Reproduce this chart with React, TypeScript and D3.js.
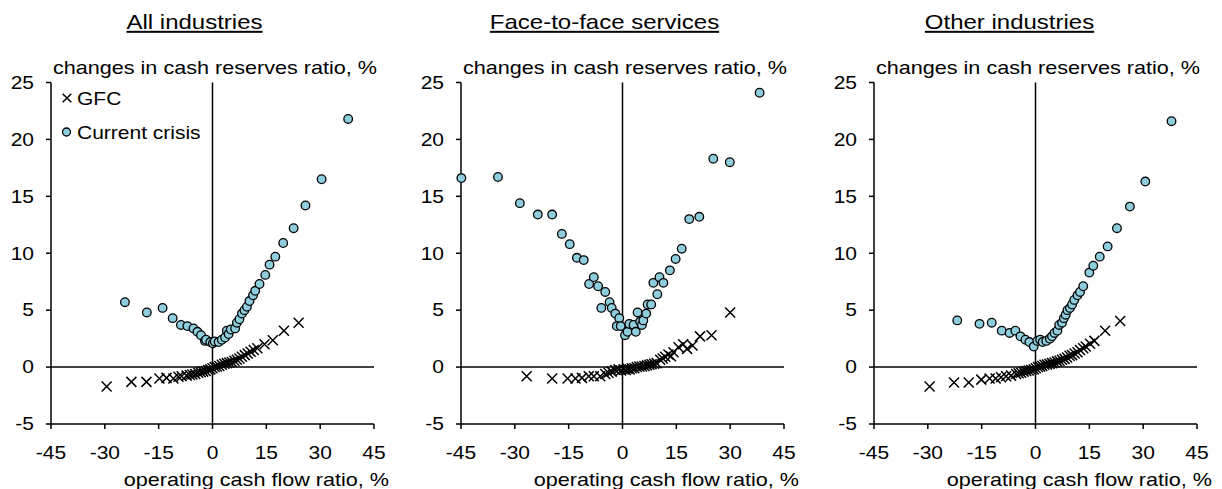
import React from 'react';
import * as d3 from 'd3';

// values: [operating cash flow ratio %, change in cash reserves ratio %]
const allGfc: [number, number][] = [
  [-29.5, -1.7], [-22.6, -1.3], [-18.4, -1.3], [-14.8, -1.0], [-12.8, -0.95], [-10.9, -1.0],
  [-9.5, -0.85], [-8.6, -0.8], [-7.2, -0.75], [-6.3, -0.7], [-5.6, -0.65], [-4.8, -0.6],
  [-4.0, -0.5], [-3.3, -0.45], [-2.6, -0.4], [-1.9, -0.35], [-1.2, -0.25], [-0.6, -0.2],
  [0.0, -0.1], [0.6, 0.0], [1.2, 0.05], [1.9, 0.1], [2.6, 0.2], [3.3, 0.3], [4.0, 0.35],
  [4.7, 0.4], [5.4, 0.45], [6.1, 0.55], [6.8, 0.65], [7.5, 0.75], [8.2, 0.9], [9.0, 1.05],
  [9.8, 1.2], [10.6, 1.35], [11.5, 1.5], [12.5, 1.65], [14.5, 2.0], [16.8, 2.35], [19.9, 3.2],
  [24.0, 3.9],
];
const allCurrent: [number, number][] = [
  [-24.4, 5.7], [-18.3, 4.8], [-13.9, 5.2], [-11.1, 4.3], [-8.8, 3.7], [-7.0, 3.6], [-5.3, 3.4],
  [-4.2, 3.1], [-3.2, 2.8], [-2.1, 2.3], [-1.8, 2.4], [-0.6, 2.2], [0.1, 2.1], [0.6, 2.25],
  [1.7, 2.2], [2.6, 2.4], [3.5, 2.6], [4.0, 3.2], [4.5, 2.9], [5.1, 3.3], [6.3, 3.4], [6.8, 3.9],
  [7.5, 4.2], [8.2, 4.7], [8.9, 5.0], [9.6, 5.3], [10.3, 5.8], [11.3, 6.3], [11.9, 6.7],
  [13.1, 7.3], [14.7, 8.1], [15.9, 9.0], [17.5, 9.7], [19.7, 10.9], [22.6, 12.2], [25.9, 14.2],
  [30.4, 16.5], [37.8, 21.8],
];

const f2fGfc: [number, number][] = [
  [-26.7, -0.8], [-19.6, -1.0], [-15.3, -1.0], [-13.1, -1.0], [-11.3, -0.95], [-9.4, -0.8],
  [-8.0, -0.8], [-6.2, -0.8], [-4.8, -0.6], [-3.9, -0.5], [-3.0, -0.4], [-2.0, -0.25],
  [-1.1, -0.2], [-0.4, -0.3], [0.3, -0.2], [0.9, -0.25], [1.4, -0.15], [2.0, -0.2], [2.6, -0.1],
  [3.3, -0.1], [4.0, 0.0], [4.7, 0.05], [5.4, 0.05], [6.1, 0.1], [6.8, 0.15], [7.5, 0.2],
  [8.1, 0.25], [8.8, 0.3], [9.5, 0.35], [10.5, 0.65], [11.2, 0.75], [11.9, 0.9], [12.8, 1.1],
  [13.5, 0.95], [14.2, 1.3], [15.6, 1.75], [16.9, 2.0], [18.0, 1.6], [19.5, 1.9], [21.6, 2.7],
  [24.8, 2.8], [30.0, 4.8],
];
const f2fCurrent: [number, number][] = [
  [-44.9, 16.6], [-34.7, 16.7], [-28.6, 14.4], [-23.6, 13.4], [-19.6, 13.4], [-16.9, 11.7],
  [-14.7, 10.8], [-12.7, 9.6], [-10.8, 9.4], [-9.3, 7.3], [-8.0, 7.9], [-6.8, 7.1], [-4.8, 6.6],
  [-5.9, 5.2], [-3.6, 5.7], [-3.0, 5.2], [-2.0, 4.7], [-0.9, 4.3], [-1.6, 3.6], [-0.5, 3.6],
  [0.7, 2.8], [1.4, 3.1], [1.9, 3.8], [3.1, 3.7], [3.7, 3.1], [4.2, 4.8], [4.9, 4.0], [5.4, 3.7],
  [5.8, 4.1], [6.6, 4.7], [7.0, 5.5], [8.0, 5.5], [8.6, 7.4], [9.7, 6.4], [10.3, 7.9],
  [11.4, 7.4], [13.2, 8.5], [14.8, 9.5], [16.5, 10.4], [18.6, 13.0], [21.4, 13.2], [25.3, 18.3],
  [29.9, 18.0], [38.2, 24.1],
];

const otherGfc: [number, number][] = [
  [-29.5, -1.7], [-22.7, -1.35], [-18.6, -1.35], [-15.1, -1.1], [-12.8, -1.0], [-11.1, -1.0],
  [-9.6, -0.9], [-8.2, -0.8], [-6.8, -0.75], [-5.4, -0.6], [-4.7, -0.55], [-4.0, -0.5],
  [-3.3, -0.4], [-2.6, -0.35], [-1.9, -0.3], [-1.2, -0.25], [-0.5, -0.2], [0.1, -0.1], [0.7, 0.0],
  [1.3, 0.05], [1.9, 0.1], [2.5, 0.2], [3.2, 0.22], [3.9, 0.28], [4.6, 0.35], [5.3, 0.4],
  [6.0, 0.5], [6.7, 0.55], [7.4, 0.65], [8.1, 0.72], [8.8, 0.85], [9.5, 1.0], [10.2, 1.05],
  [10.9, 1.2], [11.7, 1.3], [12.4, 1.5], [13.3, 1.65], [14.0, 1.8], [15.2, 2.05], [16.4, 2.3],
  [19.4, 3.2], [23.6, 4.05],
];
const otherCurrent: [number, number][] = [
  [-21.8, 4.1], [-15.6, 3.8], [-12.2, 3.9], [-9.4, 3.2], [-7.2, 3.0], [-5.6, 3.2], [-4.2, 2.7],
  [-2.8, 2.4], [-1.7, 2.2], [-0.5, 1.8], [0.5, 2.3], [1.3, 2.4], [2.0, 2.2], [3.0, 2.3],
  [4.0, 2.5], [4.6, 2.7], [5.3, 3.0], [6.1, 3.2], [6.6, 3.7], [7.4, 3.9], [7.9, 4.3], [8.4, 4.6],
  [8.9, 5.0], [9.6, 5.2], [10.2, 5.5], [10.8, 5.9], [11.7, 6.3], [12.4, 6.6], [13.3, 7.1],
  [15.0, 8.3], [16.1, 8.9], [17.9, 9.7], [20.1, 10.6], [22.7, 12.2], [26.3, 14.1], [30.6, 16.3],
  [37.9, 21.6],
];

const panelTitles = ['All industries', 'Face-to-face services', 'Other industries'];
const xTicks = [-45, -30, -15, 0, 15, 30, 45];
const yTicks = [-5, 0, 5, 10, 15, 20, 25];
const legendLabels = ['GFC', 'Current crisis'];
const yTitle = 'changes in cash reserves ratio, %';
const xTitle = 'operating cash flow ratio, %';

const FONT = '"Liberation Sans", Arial, sans-serif';
const FILL = '#8ECDDC';
const PW = 323;
const TOP = 82.5;
const BOTTOM = 424;
const STRETCH = 1.2;

const SText: React.FC<{
  x: number; y: number; size: number; anchor?: string; underline?: boolean; children: React.ReactNode;
}> = ({ x, y, size, anchor = 'start', underline, children }) => (
  <text
    transform={`translate(${x},${y}) scale(${STRETCH},1)`}
    textAnchor={anchor}
    fontSize={size}
    fontFamily={FONT}
    fill="#000"
    style={underline ? { textDecoration: 'underline' } : undefined}
  >
    {children}
  </text>
);

const Cross: React.FC<{ cx: number; cy: number; s?: number }> = ({ cx, cy, s = 5 }) => (
  <path
    d={`M${cx - s},${cy - s}L${cx + s},${cy + s}M${cx - s},${cy + s}L${cx + s},${cy - s}`}
    stroke="#000"
    strokeWidth={1.5}
    fill="none"
  />
);

interface PanelProps {
  left: number;
  title: string;
  titleDx: number;
  gfc: [number, number][];
  current: [number, number][];
  legend?: boolean;
}

const Panel: React.FC<PanelProps> = ({ left, title, titleDx, gfc, current, legend }) => {
  const x = d3.scaleLinear().domain([-45, 45]).range([left, left + PW]);
  const y = d3.scaleLinear().domain([-5, 25]).range([BOTTOM, TOP]);
  const x0 = x(0);
  const y0 = y(0);
  const axX = x(-45);
  const axY = y(-5);

  return (
    <g>
      <SText x={left + PW / 2 + titleDx} y={29} size={20} anchor="middle" underline>
        {title}
      </SText>
      <SText x={left + PW + 3} y={74} size={18} anchor="end">{yTitle}</SText>

      {/* zero lines */}
      <line x1={x0} x2={x0} y1={TOP} y2={BOTTOM} stroke="#000" strokeWidth={1.5} />
      <line x1={axX} x2={x(45)} y1={y0} y2={y0} stroke="#000" strokeWidth={1.5} />

      {/* axes */}
      <line x1={axX} x2={axX} y1={TOP} y2={axY} stroke="#000" strokeWidth={1.5} />
      <line x1={axX} x2={x(45)} y1={axY} y2={axY} stroke="#000" strokeWidth={1.5} />
      {yTicks.map(t => (
        <g key={'y' + t}>
          <line x1={axX - 5} x2={axX} y1={y(t)} y2={y(t)} stroke="#000" strokeWidth={1.5} />
          <SText x={axX - 17} y={y(t) + 6.3} size={17.5} anchor="end">{t}</SText>
        </g>
      ))}
      {xTicks.map(t => (
        <g key={'x' + t}>
          <line x1={x(t)} x2={x(t)} y1={axY} y2={axY + 5} stroke="#000" strokeWidth={1.5} />
          <SText x={x(t)} y={458.5} size={17.5} anchor="middle">{t}</SText>
        </g>
      ))}
      <SText x={x(45) + 15} y={486} size={18} anchor="end">{xTitle}</SText>

      {/* series */}
      {gfc.map((d, i) => <Cross key={'g' + i} cx={x(d[0])} cy={y(d[1])} />)}
      {current.map((d, i) => (
        <circle key={'c' + i} cx={x(d[0])} cy={y(d[1])} r={4.3} fill={FILL} stroke="#000" strokeWidth={1.3} />
      ))}

      {legend && (
        <g>
          <Cross cx={axX + 16} cy={98} s={4.3} />
          <SText x={axX + 26} y={105} size={17.5}>{legendLabels[0]}</SText>
          <circle cx={axX + 15.5} cy={132} r={4} fill={FILL} stroke="#000" strokeWidth={1.3} />
          <SText x={axX + 26} y={139} size={17.5}>{legendLabels[1]}</SText>
        </g>
      )}
    </g>
  );
};

export default function App() {
  return (
    <svg width={1222} height={489} style={{ position: 'absolute', left: 0, top: 0, background: '#fff' }}>
      <Panel left={51} title={panelTitles[0]} titleDx={-18} gfc={allGfc} current={allCurrent} legend />
      <Panel left={461} title={panelTitles[1]} titleDx={-18} gfc={f2fGfc} current={f2fCurrent} />
      <Panel left={874} title={panelTitles[2]} titleDx={-26} gfc={otherGfc} current={otherCurrent} />
    </svg>
  );
}
